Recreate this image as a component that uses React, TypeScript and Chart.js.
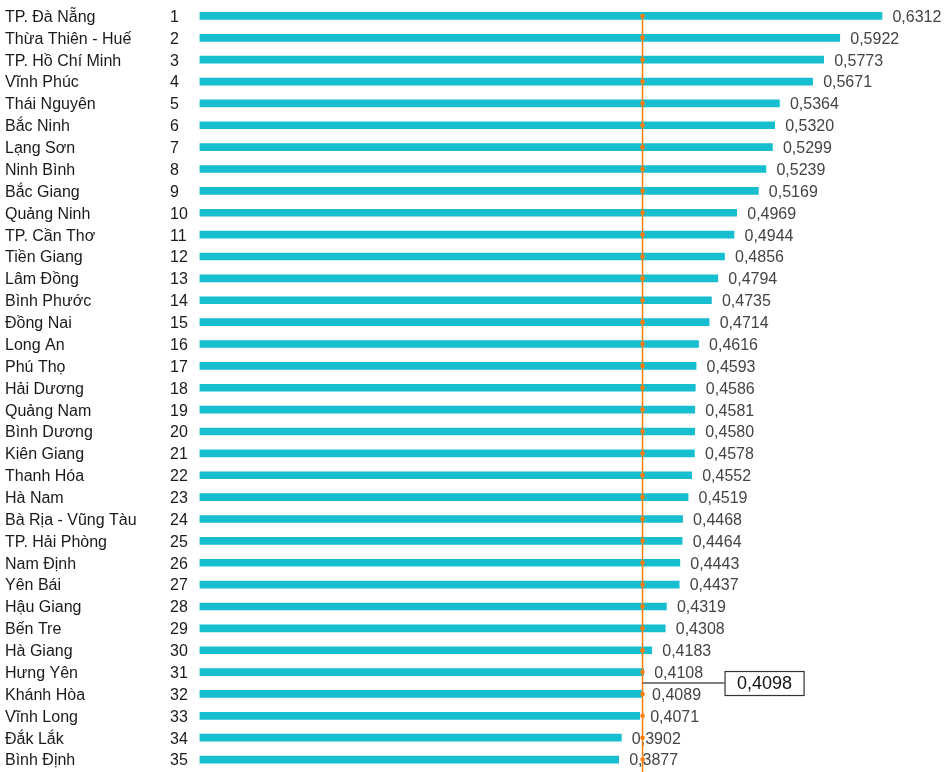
import React, { useEffect, useRef } from "react";
import { Chart, registerables } from "chart.js";

Chart.register(...registerables);

const provinces: string[] = [
  "TP. Đà Nẵng", "Thừa Thiên - Huế", "TP. Hồ Chí Minh", "Vĩnh Phúc", "Thái Nguyên",
  "Bắc Ninh", "Lạng Sơn", "Ninh Bình", "Bắc Giang", "Quảng Ninh",
  "TP. Cần Thơ", "Tiền Giang", "Lâm Đồng", "Bình Phước", "Đồng Nai",
  "Long An", "Phú Thọ", "Hải Dương", "Quảng Nam", "Bình Dương",
  "Kiên Giang", "Thanh Hóa", "Hà Nam", "Bà Rịa - Vũng Tàu", "TP. Hải Phòng",
  "Nam Định", "Yên Bái", "Hậu Giang", "Bến Tre", "Hà Giang",
  "Hưng Yên", "Khánh Hòa", "Vĩnh Long", "Đắk Lắk", "Bình Định",
];

const ranks: string[] = [
  "1", "2", "3", "4", "5", "6", "7", "8", "9", "10",
  "11", "12", "13", "14", "15", "16", "17", "18", "19", "20",
  "21", "22", "23", "24", "25", "26", "27", "28", "29", "30",
  "31", "32", "33", "34", "35",
];

const values: number[] = [
  0.6312, 0.5922, 0.5773, 0.5671, 0.5364, 0.532, 0.5299, 0.5239, 0.5169, 0.4969,
  0.4944, 0.4856, 0.4794, 0.4735, 0.4714, 0.4616, 0.4593, 0.4586, 0.4581, 0.458,
  0.4578, 0.4552, 0.4519, 0.4468, 0.4464, 0.4443, 0.4437, 0.4319, 0.4308, 0.4183,
  0.4108, 0.4089, 0.4071, 0.3902, 0.3877,
];

const referenceValue = 0.4098;
const referenceLabelRow = 30.5; // between rows 31 and 32

const FONT = '"Liberation Sans", Arial, Helvetica, sans-serif';
const BAR_COLOR = "#17becf";
const LINE_COLOR = "#ff7f0e";

const fmt = (v: number) => v.toFixed(4).replace(".", ",");

const overlayPlugin = {
  id: "overlay",
  afterDatasetsDraw(chart: any) {
    const ctx = chart.ctx as CanvasRenderingContext2D;
    const xs = chart.scales.x;
    const ys = chart.scales.y;
    ctx.save();
    ctx.textBaseline = "middle";
    ctx.textAlign = "left";

    provinces.forEach((name, i) => {
      const y = ys.getPixelForValue(i) + 1.5;
      ctx.font = `16px ${FONT}`;
      ctx.fillStyle = "#1a1a1a";
      ctx.fillText(name, 5, y);
      ctx.fillText(ranks[i], 170, y);
      ctx.fillStyle = "#444";
      ctx.fillText(fmt(values[i]), xs.getPixelForValue(values[i]) + 10.5, y);
    });

    // reference line
    const lx = xs.getPixelForValue(referenceValue);
    ctx.strokeStyle = LINE_COLOR;
    ctx.lineWidth = 1.5;
    ctx.beginPath();
    ctx.moveTo(lx, ys.getPixelForValue(0));
    ctx.lineTo(lx, chart.height);
    ctx.stroke();
    ctx.fillStyle = LINE_COLOR;
    provinces.forEach((_, i) => {
      ctx.beginPath();
      ctx.arc(lx, ys.getPixelForValue(i), 2.3, 0, Math.PI * 2);
      ctx.fill();
    });

    // connector + box label
    const cy = ys.getPixelForValue(referenceLabelRow);
    const boxLeft = lx + 82;
    const boxW = 79;
    const boxH = 24;
    ctx.strokeStyle = "#555";
    ctx.lineWidth = 1.5;
    ctx.beginPath();
    ctx.moveTo(lx, cy);
    ctx.lineTo(boxLeft, cy);
    ctx.stroke();
    ctx.fillStyle = "#fff";
    ctx.fillRect(boxLeft, cy - boxH / 2, boxW, boxH);
    ctx.strokeStyle = "#333";
    ctx.lineWidth = 1.2;
    ctx.strokeRect(boxLeft + 0.5, cy - boxH / 2 + 0.5, boxW, boxH);
    ctx.fillStyle = "#111";
    ctx.font = `18px ${FONT}`;
    ctx.textAlign = "center";
    ctx.fillText(fmt(referenceValue), boxLeft + boxW / 2 + 0.5, cy + 1);
    ctx.restore();
  },
};

export default function App() {
  const canvasRef = useRef<HTMLCanvasElement | null>(null);

  useEffect(() => {
    if (!canvasRef.current) return;
    const chart = new Chart(canvasRef.current, {
      type: "bar",
      data: {
        labels: provinces,
        datasets: [
          {
            data: values,
            backgroundColor: BAR_COLOR,
            barThickness: 7,
            borderWidth: 0,
          },
        ],
      },
      options: {
        indexAxis: "y",
        responsive: false,
        animation: false,
        devicePixelRatio: 1,
        layout: { padding: { left: 199.5, right: 6.5, top: 5, bottom: 1.5 } },
        scales: {
          x: { display: false, min: 0, max: 0.69 },
          y: { display: false },
        },
        plugins: {
          legend: { display: false },
          tooltip: { enabled: false },
        },
      },
      plugins: [overlayPlugin],
    });
    return () => chart.destroy();
  }, []);

  return (
    <div style={{ position: "fixed", left: 0, top: 0, width: 952, height: 772, background: "#fff" }}>
      <canvas ref={canvasRef} width={952} height={772} />
    </div>
  );
}
